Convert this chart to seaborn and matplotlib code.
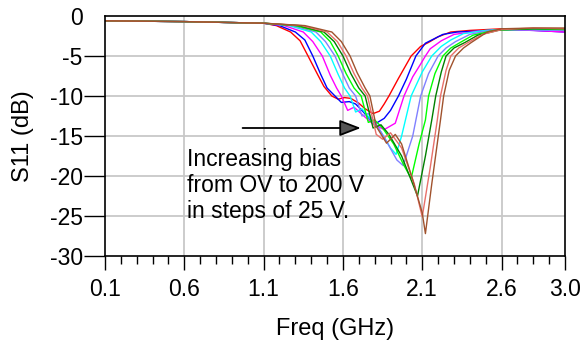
import numpy as np
import pandas as pd
import matplotlib
matplotlib.use("Agg")
import matplotlib.pyplot as plt
import seaborn as sns

# S11 sweeps, one per bias step
bias_labels = ["0V", "25V", "50V", "75V", "100V", "125V", "150V", "175V", "200V"]
bias_colors = ["#FF0000", "#0000FF", "#FF00FF", "#00FFFF", "#8080FF",
               "#00FF00", "#008000", "#E8706A", "#A0522D"]

freq_0v = [0.1, 0.6, 1.1, 1.18, 1.27, 1.33, 1.38, 1.44, 1.48, 1.53, 1.57, 1.61, 1.65,
           1.70, 1.74, 1.79, 1.83, 1.86, 1.89, 1.95, 2.03, 2.09, 2.14, 2.20, 2.28, 2.40, 2.6, 2.8, 3.0]
s11_0v = [-0.6, -0.7, -0.9, -1.2, -2.0, -3.1, -5.0, -7.3, -8.8, -10.0, -10.4, -10.2, -10.3,
          -10.9, -11.6, -12.2, -11.9, -11.0, -10.0, -7.8, -5.0, -3.8, -3.3, -2.6, -2.0, -1.8, -1.6, -1.7, -1.8]

freq_25v = [0.1, 0.6, 1.1, 1.2, 1.30, 1.36, 1.41, 1.46, 1.50, 1.55, 1.59, 1.64, 1.68,
            1.72, 1.77, 1.81, 1.86, 1.90, 1.95, 2.00, 2.06, 2.12, 2.17, 2.23, 2.32, 2.44, 2.6, 2.8, 3.0]
s11_25v = [-0.6, -0.7, -0.9, -1.2, -2.0, -3.0, -5.0, -7.3, -9.0, -10.0, -10.8, -10.7, -11.0,
           -11.8, -12.9, -13.4, -12.8, -11.8, -10.0, -7.9, -5.0, -3.4, -2.9, -2.3, -2.0, -1.9, -1.7, -1.8, -2.0]

freq_50v = [0.1, 0.6, 1.1, 1.23, 1.35, 1.41, 1.47, 1.52, 1.56, 1.59, 1.63, 1.67, 1.72,
            1.79, 1.86, 1.93, 1.985, 2.04, 2.09, 2.12, 2.15, 2.22, 2.30, 2.45, 2.6, 2.8, 3.0]
s11_50v = [-0.6, -0.7, -0.9, -1.2, -2.0, -3.2, -5.0, -7.4, -9.0, -10.0, -11.8, -11.4, -12.3,
           -13.5, -14.2, -13.4, -10.0, -7.6, -6.0, -5.0, -4.1, -3.1, -2.3, -1.9, -1.7, -1.8, -2.0]

freq_75v = [0.1, 0.6, 1.1, 1.26, 1.40, 1.46, 1.52, 1.57, 1.61, 1.645, 1.68, 1.72, 1.77,
            1.84, 1.90, 1.935, 1.97, 2.03, 2.10, 2.16, 2.22, 2.28, 2.36, 2.5, 2.6, 2.8, 3.0]
s11_75v = [-0.6, -0.7, -0.9, -1.2, -2.0, -3.2, -5.0, -7.3, -9.0, -10.0, -12.0, -11.6, -12.8,
           -14.5, -16.5, -17.3, -15.0, -10.0, -7.0, -5.0, -3.8, -3.0, -2.2, -1.8, -1.7, -1.7, -1.8]

freq_100v = [0.1, 0.6, 1.1, 1.28, 1.43, 1.49, 1.55, 1.60, 1.64, 1.68, 1.72, 1.76, 1.81,
             1.87, 1.94, 1.98, 2.04, 2.09, 2.14, 2.20, 2.25, 2.31, 2.40, 2.5, 2.6, 2.8, 3.0]
s11_100v = [-0.6, -0.7, -0.9, -1.2, -2.0, -3.2, -5.0, -7.3, -9.0, -10.0, -12.5, -12.2, -13.5,
            -15.5, -18.0, -18.7, -15.0, -10.0, -7.2, -5.0, -4.0, -3.2, -2.3, -1.9, -1.7, -1.7, -1.8]

freq_125v = [0.1, 0.6, 1.1, 1.3, 1.46, 1.52, 1.57, 1.62, 1.67, 1.715, 1.76, 1.80, 1.85,
             1.92, 1.98, 2.03, 2.08, 2.12, 2.14, 2.18, 2.23, 2.28, 2.34, 2.42, 2.55, 2.8, 3.0]
s11_125v = [-0.6, -0.7, -0.9, -1.2, -2.0, -3.2, -5.0, -7.2, -9.0, -10.0, -13.3, -13.0, -14.0,
            -16.0, -18.5, -20.3, -16.0, -13.0, -10.0, -7.2, -5.0, -4.0, -3.3, -2.4, -1.8, -1.6, -1.7]

freq_150v = [0.1, 0.6, 1.1, 1.32, 1.48, 1.545, 1.60, 1.65, 1.70, 1.74, 1.79, 1.84, 1.89,
             1.97, 2.02, 2.07, 2.12, 2.16, 2.185, 2.22, 2.25, 2.30, 2.37, 2.45, 2.6, 2.8, 3.0]
s11_150v = [-0.6, -0.7, -0.9, -1.2, -2.0, -3.2, -5.0, -7.2, -9.0, -10.0, -14.0, -13.6, -14.8,
            -17.5, -20.0, -22.5, -17.5, -13.0, -10.0, -7.0, -5.0, -4.0, -3.3, -2.4, -1.7, -1.6, -1.6]

freq_175v = [0.1, 0.6, 1.1, 1.34, 1.50, 1.565, 1.62, 1.67, 1.72, 1.755, 1.81, 1.85, 1.90,
             1.97, 2.05, 2.10, 2.15, 2.195, 2.215, 2.25, 2.28, 2.33, 2.39, 2.48, 2.6, 2.8, 3.0]
s11_175v = [-0.6, -0.7, -0.9, -1.2, -2.0, -3.2, -5.0, -7.2, -9.0, -10.0, -14.8, -15.4, -14.6,
            -16.5, -21.0, -25.1, -19.0, -13.0, -10.0, -6.8, -5.0, -4.0, -3.3, -2.3, -1.7, -1.5, -1.6]

freq_200v = [0.1, 0.6, 1.1, 1.36, 1.53, 1.59, 1.645, 1.69, 1.74, 1.77, 1.81, 1.875, 1.93,
             1.97, 2.04, 2.10, 2.12, 2.16, 2.215, 2.235, 2.27, 2.31, 2.36, 2.41, 2.51, 2.6, 2.8, 3.0]
s11_200v = [-0.6, -0.7, -0.9, -1.2, -2.0, -3.2, -5.0, -7.1, -9.0, -10.0, -13.8, -15.9, -14.8,
            -16.0, -20.5, -24.6, -27.2, -21.0, -13.0, -10.0, -6.8, -5.0, -4.0, -3.3, -2.0, -1.6, -1.5, -1.5]

freq_lists = [freq_0v, freq_25v, freq_50v, freq_75v, freq_100v,
              freq_125v, freq_150v, freq_175v, freq_200v]
s11_lists = [s11_0v, s11_25v, s11_50v, s11_75v, s11_100v,
             s11_125v, s11_150v, s11_175v, s11_200v]

x_ticks = [0.1, 0.6, 1.1, 1.6, 2.1, 2.6, 3.0]
x_tick_labels = ["0.1", "0.6", "1.1", "1.6", "2.1", "2.6", "3.0"]
y_ticks = [0, -5, -10, -15, -20, -25, -30]
y_tick_labels = ["0", "-5", "-10", "-15", "-20", "-25", "-30"]

rows = []
for label, fr, s in zip(bias_labels, freq_lists, s11_lists):
    for f, v in zip(fr, s):
        rows.append({"bias": label, "freq": f, "s11": v})
df = pd.DataFrame(rows)

sns.set_style("white")
plt.rcParams["font.family"] = ["Liberation Sans", "DejaVu Sans"]
plt.rcParams["text.color"] = "black"
plt.rcParams["axes.labelcolor"] = "black"
plt.rcParams["xtick.color"] = "black"
plt.rcParams["ytick.color"] = "black"

fig = plt.figure(figsize=(5.82, 3.43), dpi=100)
ax = fig.add_axes([105 / 582, 1 - 256 / 343, 460 / 582, 240 / 343])

# grid first so curves sit on top
for gx in x_ticks[1:-1]:
    ax.axvline(gx, color="#C8C8C8", lw=1.3, zorder=0)
for gy in y_ticks[1:-1]:
    ax.axhline(gy, color="#C8C8C8", lw=1.3, zorder=0)

sns.lineplot(data=df, x="freq", y="s11", hue="bias", units="bias", estimator=None,
             sort=False, palette=dict(zip(bias_labels, bias_colors)),
             hue_order=bias_labels, linewidth=1.0, legend=False, ax=ax)

ax.set_xlim(0.1, 3.0)
ax.set_ylim(-30, 0)
ax.set_xticks(x_ticks)
ax.set_xticklabels(x_tick_labels)
ax.set_xticks(np.arange(0.2, 3.0, 0.1), minor=True)
ax.set_yticks(y_ticks)
ax.set_yticklabels(y_tick_labels)
ax.tick_params(axis="x", which="major", direction="out", length=10, width=1,
               labelsize=16.5, pad=6, bottom=True)
ax.tick_params(axis="x", which="minor", direction="out", length=6, width=1, bottom=True)
ax.tick_params(axis="y", which="major", direction="out", length=15, width=1,
               labelsize=16.5, pad=1, left=True)
# no dash next to the 0 label
for t, loc in zip(ax.yaxis.get_major_ticks(), ax.get_yticks()):
    if loc == 0:
        t.tick1line.set_visible(False)
for sp in ax.spines.values():
    sp.set_color("black")
    sp.set_linewidth(1.2)

ax.set_xlabel("Freq (GHz)", fontsize=17, labelpad=12)
ax.set_ylabel("S11 (dB)", fontsize=17, labelpad=11)

ax.annotate("", xy=(1.73, -14.0), xytext=(0.95, -14.0),
            arrowprops=dict(arrowstyle="-|>,head_length=1.3,head_width=0.5",
                            color="black", lw=1.3, fc="#555555"))
ax.text(0.62, -16.5, "Increasing bias\nfrom OV to 200 V\nin steps of 25 V.",
        fontsize=16.5, va="top", ha="left", linespacing=1.16)

fig.savefig("out.png", dpi=100)
